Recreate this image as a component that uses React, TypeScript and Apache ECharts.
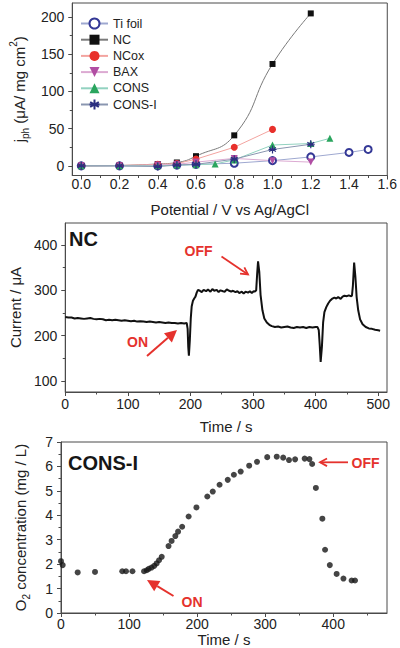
import React, { useEffect, useRef } from "react";
import * as echarts from "echarts";

// ---------- Panel 1: photocurrent vs potential ----------
const seriesNames = ["Ti foil", "NC", "NCox", "BAX", "CONS", "CONS-I"];
const tiFoil = [[0, 0], [0.2, 0], [0.4, 0], [0.5, 1], [0.6, 2], [0.8, 3.5], [1.0, 7], [1.2, 12], [1.4, 18], [1.5, 22]];
const nc = [[0, 0], [0.2, 0.5], [0.4, 2.5], [0.5, 4.5], [0.6, 13], [0.8, 41], [1.0, 137], [1.2, 205]];
const ncox = [[0, 0], [0.2, 0.5], [0.4, 2], [0.5, 3], [0.6, 9], [0.8, 25], [1.0, 49]];
const bax = [[0, 0], [0.2, 0], [0.4, 1], [0.5, 2], [0.6, 5], [0.8, 10], [1.0, 7], [1.2, 5]];
const cons = [[0, 0], [0.2, 0], [0.4, 0], [0.5, 1], [0.6, 1.5], [0.7, 2.5], [0.8, 8], [1.0, 28], [1.2, 30], [1.3, 37]];
const consI = [[0, 0], [0.2, 0], [0.4, -1], [0.5, 1], [0.6, 2], [0.8, 9], [1.0, 22], [1.2, 29]];
const potentialTicks = [0, 0.2, 0.4, 0.6, 0.8, 1.0, 1.2, 1.4, 1.6];
const potentialMinor = [0.1, 0.3, 0.5, 0.7, 0.9, 1.1, 1.3, 1.5];
const jphTicks = [0, 50, 100, 150, 200];
const jphMinor = [25, 75, 125, 175];

// ---------- Panel 2: NC current transient ----------
const ncCurrent = [
  [0, 241], [5, 240], [10, 240], [15, 238], [20, 239], [25, 238], [30, 237], [35, 238], [40, 239], [45, 237],
  [50, 236], [55, 237], [60, 236], [65, 234], [70, 235], [75, 234], [80, 235], [85, 234], [90, 233], [95, 234],
  [100, 233], [105, 232], [110, 233], [115, 231], [120, 232], [125, 231], [130, 230], [135, 231], [140, 230], [145, 229],
  [150, 230], [155, 229], [160, 228], [165, 229], [170, 228], [175, 228], [180, 227], [185, 228], [190, 227], [194, 228],
  [195.5, 215], [196.5, 175], [197.5, 156], [199, 190], [200.5, 238], [202, 265], [204, 277], [206, 282], [208, 286], [210, 295],
  [212, 301], [215, 299], [218, 296], [221, 301], [225, 298], [228, 302], [232, 297], [235, 303], [238, 299], [242, 301],
  [245, 296], [248, 300], [252, 298], [255, 297], [258, 302], [262, 299], [265, 297], [268, 299], [272, 296], [275, 298],
  [278, 294], [282, 297], [285, 293], [288, 297], [292, 295], [295, 298], [298, 294], [301, 298], [303, 297], [305, 300],
  [306.5, 335], [308, 364], [310, 340], [312, 290], [315, 256], [318, 238], [322, 229], [326, 224], [330, 221], [335, 219],
  [340, 220], [345, 218], [350, 219], [355, 220], [360, 218], [365, 217], [370, 219], [375, 218], [380, 219], [385, 217],
  [390, 219], [395, 218], [400, 219], [403, 219], [405, 212], [406.5, 180], [408, 142], [410, 175], [412, 230], [414, 252],
  [417, 263], [420, 271], [423, 277], [426, 281], [430, 284], [433, 282], [436, 285], [440, 281], [443, 286], [446, 288],
  [450, 287], [453, 289], [456, 287], [458, 288], [459.5, 310], [461.5, 361], [463.5, 330], [465.5, 285], [468, 256], [471, 236],
  [475, 225], [480, 219], [485, 216], [490, 215], [495, 213], [500, 212], [503, 211],
];
const timeTicks1 = [0, 100, 200, 300, 400, 500];
const timeMinor1 = [50, 150, 250, 350, 450];
const currentTicks = [100, 200, 300, 400];
const currentMinor = [150, 250, 350];

// ---------- Panel 3: O2 concentration ----------
const o2Conc = [
  [0, 2.12], [2.5, 1.96], [24.5, 1.66], [50, 1.68], [90, 1.71], [95.5, 1.71], [105, 1.71], [122, 1.71], [126, 1.75],
  [129, 1.81], [133, 1.86], [137, 1.93], [140.5, 2.03], [144, 2.16], [148, 2.3], [158, 2.74], [162.5, 2.95], [168, 3.15],
  [172, 3.33], [178, 3.53], [187.5, 3.95], [199, 4.32], [215, 4.77], [223, 4.97], [233, 5.25], [245, 5.45], [254, 5.66],
  [264, 5.79], [276.5, 6.03], [288, 6.19], [303, 6.38], [317, 6.4], [326.5, 6.36], [335, 6.26], [344, 6.29], [358, 6.32],
  [365, 6.3], [369, 6.1], [374.5, 5.12], [384, 3.86], [388, 2.59], [395, 1.96], [405, 1.6], [415, 1.41], [427, 1.33], [432, 1.33],
];
const timeTicks2 = [0, 100, 200, 300, 400];
const timeMinor2 = [50, 150, 250, 350, 450];
const o2Ticks = [0, 1, 2, 3, 4, 5, 6, 7];
const o2Minor = [0.5, 1.5, 2.5, 3.5, 4.5, 5.5, 6.5];

const FONT = "'Liberation Sans', Arial, sans-serif";
const AX = "#4a4a4a";
const TXT = "#222";
const RED = "#e5322d";

function axisPair(
  dim: "x" | "y",
  gridIndex: number,
  min: number,
  max: number,
  majors: number[],
  minors: number[],
  fmt: (v: number) => string,
  labelMargin: number,
  name: any,
  nameGap: number,
  rich?: any
) {
  const position = dim === "x" ? "bottom" : "left";
  const main: any = {
    type: "value",
    gridIndex,
    min,
    max,
    position,
    axisLine: { show: true, onZero: false, lineStyle: { color: AX, width: 1 } },
    axisTick: { show: true, inside: false, length: 4, customValues: majors, lineStyle: { color: AX } },
    axisLabel: {
      customValues: majors,
      formatter: fmt,
      margin: labelMargin,
      fontSize: 14,
      color: TXT,
      fontFamily: FONT,
    },
    splitLine: { show: false },
    name,
    nameLocation: "middle",
    nameGap,
    nameRotate: dim === "y" ? 90 : 0,
    nameTextStyle: { fontSize: 15, color: TXT, fontFamily: FONT, rich },
  };
  const minor: any = {
    type: "value",
    gridIndex,
    min,
    max,
    position,
    axisLine: { show: false, onZero: false },
    axisTick: { show: true, inside: false, length: 2.5, customValues: minors, lineStyle: { color: AX } },
    axisLabel: { show: false },
    splitLine: { show: false },
  };
  return [main, minor];
}

function arrow(x1: number, y1: number, x2: number, y2: number, filled: boolean, head: number, width: number) {
  const ang = Math.atan2(y2 - y1, x2 - x1);
  const els: any[] = [];
  if (filled) {
    const bx = x2 - head * Math.cos(ang);
    const by = y2 - head * Math.sin(ang);
    const hw = head * 0.5;
    els.push({
      type: "line",
      shape: { x1, y1, x2: bx, y2: by },
      style: { stroke: RED, lineWidth: width },
    });
    els.push({
      type: "polygon",
      shape: {
        points: [
          [x2, y2],
          [bx + hw * Math.sin(ang), by - hw * Math.cos(ang)],
          [bx - hw * Math.sin(ang), by + hw * Math.cos(ang)],
        ],
      },
      style: { fill: RED },
    });
  } else {
    els.push({ type: "line", shape: { x1, y1, x2, y2 }, style: { stroke: RED, lineWidth: width } });
    const a1 = ang + Math.PI - 0.5;
    const a2 = ang + Math.PI + 0.5;
    els.push({
      type: "polyline",
      shape: {
        points: [
          [x2 + head * Math.cos(a1), y2 + head * Math.sin(a1)],
          [x2, y2],
          [x2 + head * Math.cos(a2), y2 + head * Math.sin(a2)],
        ],
      },
      style: { stroke: RED, lineWidth: width, fill: "none" },
    });
  }
  return els;
}

function label(text: string, x: number, y: number, color: string, size: number, align: string) {
  return {
    type: "text",
    x,
    y,
    style: {
      text,
      fill: color,
      font: `bold ${size}px ${FONT}`,
      textAlign: align,
      textVerticalAlign: "middle",
    },
  };
}

const asterisk = "path://M5 0L5 10M0.7 2.5L9.3 7.5M9.3 2.5L0.7 7.5M0 5L10 5";

export default function App() {
  const ref = useRef<HTMLDivElement>(null);

  useEffect(() => {
    if (!ref.current) return;
    const chart = echarts.init(ref.current, undefined, { renderer: "svg" });

    const f1 = (v: number) => v.toFixed(1);
    const f0 = (v: number) => String(Math.round(v));

    const subRich = {
      n: { fontSize: 15, fontFamily: FONT, color: TXT, lineHeight: 22 },
      sub: { fontSize: 10, fontFamily: FONT, color: TXT, lineHeight: 10, verticalAlign: "bottom" },
      sup: { fontSize: 10, fontFamily: FONT, color: TXT, lineHeight: 10, verticalAlign: "top" },
    };

    const [x0, x0m] = axisPair("x", 0, -0.047, 1.6, potentialTicks, potentialMinor, f1, 1, "Potential / V vs Ag/AgCl", 26);
    const [y0, y0m] = axisPair("y", 0, -13, 219, jphTicks, jphMinor, f0, 8,
      "{n|j}{sub|ph}{n| (μA/ mg cm}{sup|2}{n|)}", 42, subRich);
    const [x1, x1m] = axisPair("x", 1, 0, 514, timeTicks1, timeMinor1, f0, 5, "Time / s", 27);
    const [y1, y1m] = axisPair("y", 1, 75.7, 448.5, currentTicks, currentMinor, f0, 8, "Current / μA", 35);
    const [x2, x2m] = axisPair("x", 2, 0, 479, timeTicks2, timeMinor2, f0, 4, "Time / s", 19);
    const [y2, y2m] = axisPair("y", 2, 0, 7, o2Ticks, o2Minor, f0, 8,
      "{n|O}{sub|2}{n| concentration (mg / L)}", 30, subRich);

    const lineCommon = { type: "line", xAxisIndex: 0, yAxisIndex: 0, symbolSize: 6, lineStyle: { width: 1 } };

    const option: any = {
      animation: false,
      backgroundColor: "#fff",
      textStyle: { fontFamily: FONT },
      grid: [
        { left: 62, top: 3, width: 326, height: 172.5, show: true, borderColor: AX, borderWidth: 1, backgroundColor: "transparent" },
        { left: 61, top: 223, width: 326, height: 169, show: true, borderColor: AX, borderWidth: 1, backgroundColor: "transparent" },
        { left: 61, top: 442, width: 326, height: 171, show: true, borderColor: AX, borderWidth: 1, backgroundColor: "transparent" },
      ],
      xAxis: [x0, x0m, x1, x1m, x2, x2m],
      yAxis: [y0, y0m, y1, y1m, y2, y2m],
      legend: {
        orient: "vertical",
        left: 75,
        top: 12,
        itemWidth: 27,
        itemHeight: 12.5,
        itemGap: 3.2,
        textStyle: { fontSize: 12.5, color: TXT, fontFamily: FONT },
        data: seriesNames,
      },
      series: [
        {
          ...lineCommon, name: seriesNames[0], data: tiFoil, symbol: "emptyCircle", symbolSize: 7,
          itemStyle: { color: "#343896", borderWidth: 1 }, lineStyle: { width: 1, color: "#9ea8d0" },
        },
        {
          ...lineCommon, name: seriesNames[1], data: nc, symbol: "rect", symbolSize: 6, smooth: 0.5,
          itemStyle: { color: "#111" }, lineStyle: { width: 1, color: "#7a7a7a" },
        },
        {
          ...lineCommon, name: seriesNames[2], data: ncox, symbol: "circle", symbolSize: 7,
          itemStyle: { color: "#e8302b" }, lineStyle: { width: 1, color: "#f3a4a0" },
        },
        {
          ...lineCommon, name: seriesNames[3], data: bax, symbol: "triangle", symbolRotate: 180, symbolSize: 7,
          itemStyle: { color: "#b14ea3" }, lineStyle: { width: 1, color: "#dcaad2" },
        },
        {
          ...lineCommon, name: seriesNames[4], data: cons, symbol: "triangle", symbolSize: 7,
          itemStyle: { color: "#2aa55e" }, lineStyle: { width: 1, color: "#92d2c0" },
        },
        {
          ...lineCommon, name: seriesNames[5], data: consI, symbol: asterisk, symbolSize: 8,
          itemStyle: { color: "#2c2f80", borderColor: "#2c2f80", borderWidth: 1.2 },
          lineStyle: { width: 1, color: "#8a96b0" },
        },
        {
          type: "line", name: "NC current", xAxisIndex: 2, yAxisIndex: 2, data: ncCurrent,
          showSymbol: false, symbol: "none", lineStyle: { width: 2, color: "#111" },
        },
        {
          type: "scatter", name: "O2", xAxisIndex: 4, yAxisIndex: 4, data: o2Conc,
          symbol: "circle", symbolSize: 6, itemStyle: { color: "#161616" },
        },
      ],
      graphic: [
        label("NC", 69, 238.5, "#161616", 20, "left"),
        label("OFF", 198.5, 250.5, RED, 14, "center"),
        ...arrow(221.5, 256.5, 248, 274.5, false, 8, 1.8),
        label("ON", 137.5, 342, RED, 14, "center"),
        ...arrow(147, 356, 177, 330, true, 12, 2),
        label("CONS-I", 68, 462.5, "#161616", 20, "left"),
        label("OFF", 365.5, 462.5, RED, 14, "center"),
        ...arrow(348, 462.3, 320, 462.3, false, 8, 1.8),
        label("ON", 192, 601.5, RED, 14, "center"),
        ...arrow(173.5, 596, 147, 580, true, 12, 2),
      ],
    };

    chart.setOption(option);
    return () => chart.dispose();
  }, []);

  return (
    <div
      ref={ref}
      style={{ position: "absolute", left: 0, top: 0, width: 400, height: 648, background: "#fff" }}
    />
  );
}
